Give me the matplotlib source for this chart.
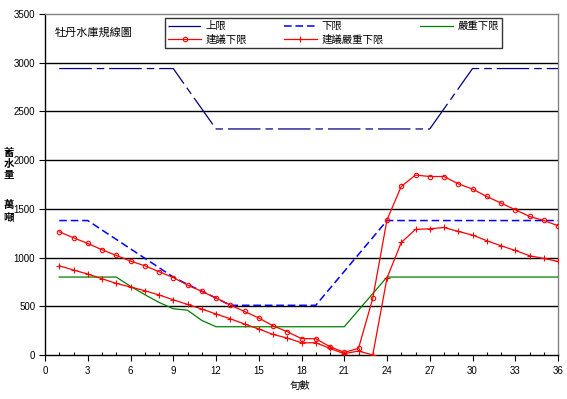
#-*-coding: utf-8 -*-
# 牡丹水庫規線圖
import numpy as np
import matplotlib
matplotlib.use('Agg')
from matplotlib import pyplot as plt

plt.rcParams['font.family'] = ['Noto Sans CJK TC', 'DejaVu Sans']

# 旬數
xun = list(range(1, 37))

# 上限
upper = [2940, 2940, 2940, 2940, 2940, 2940, 2940, 2940, 2940, 2733, 2527, 2320,
         2320, 2320, 2320, 2320, 2320, 2320, 2320, 2320, 2320, 2320, 2320, 2320,
         2320, 2320, 2320, 2527, 2733, 2940, 2940, 2940, 2940, 2940, 2940, 2940]
# 下限
lower = [1380, 1380, 1380, 1283, 1187, 1090, 993, 897, 800, 725, 655, 585,
         510, 510, 510, 510, 510, 510, 510, 684, 858, 1032, 1206, 1380,
         1380, 1380, 1380, 1380, 1380, 1380, 1380, 1380, 1380, 1380, 1380, 1380]
# 嚴重下限
severe = [800, 800, 800, 800, 800, 705, 620, 540, 475, 460, 355, 290,
          290, 290, 290, 290, 290, 290, 290, 290, 290, 460, 630, 800,
          800, 800, 800, 800, 800, 800, 800, 800, 800, 800, 800, 800]
# 建議下限
sugg = [1265, 1203, 1145, 1080, 1022, 964, 916, 855, 795, 718, 653, 585,
        513, 447, 380, 300, 239, 168, 167, 85, 27, 68, 581, 1388,
        1730, 1847, 1832, 1832, 1757, 1703, 1627, 1559, 1491, 1422, 1381, 1327]
# 建議嚴重下限
sugg_severe = [916, 872, 831, 783, 735, 698, 660, 616, 567, 519, 472, 421,
               372, 318, 267, 211, 174, 125, 126, 68, 13, 41, 0, 790,
               1155, 1289, 1295, 1309, 1268, 1231, 1173, 1121, 1073, 1019, 991, 960]

yticks = [0, 500, 1000, 1500, 2000, 2500, 3000, 3500]
xticks = list(range(0, 37, 3))

fig = plt.figure(figsize=(5.67, 3.99), dpi=100)
ax = fig.add_axes([45/567, 1-355/399, 513/567, 341/399])

for v in yticks[1:-1]:
    ax.axhline(v, color='black', lw=1, zorder=1)

l1, = ax.plot(xun, upper, color='#000080', lw=0.9, dashes=(26, 4, 6, 4), label=u'上限', zorder=3)
l2, = ax.plot(xun, lower, color='#0000FF', lw=1.1, dashes=(5, 2.5), label=u'下限', zorder=3)
l3, = ax.plot(xun, severe, color='#008000', lw=0.9, label=u'嚴重下限', zorder=3)
l4, = ax.plot(xun, sugg, color='#FF0000', lw=0.9, marker='o', ms=3.2, mfc='none', mew=0.8,
              label=u'建議下限', zorder=4)
l5, = ax.plot(xun, sugg_severe, color='#FF0000', lw=0.9, marker='+', ms=4, mew=0.8,
              label=u'建議嚴重下限', zorder=4)

ax.set_xlim(0, 36)
ax.set_ylim(0, 3500)
ax.set_xticks(xticks)
ax.set_xticks(xun, minor=True)
ax.set_yticks(yticks)
ax.tick_params(axis='both', labelsize=7, direction='out', length=4, width=0.8, colors='black')
ax.tick_params(axis='x', which='minor', direction='in', length=2, width=0.8)
ax.tick_params(axis='x', pad=4)
ax.tick_params(axis='y', pad=3)
for lab in ax.get_xticklabels() + ax.get_yticklabels():
    lab.set_family(['Liberation Sans Narrow', 'Liberation Sans', 'DejaVu Sans'])
    lab.set_fontsize(7)
ax.spines['left'].set_color('black')
ax.spines['bottom'].set_color('black')
ax.spines['top'].set_color('#808080')
ax.spines['right'].set_color('#808080')
for s in ax.spines.values():
    s.set_linewidth(1)

leg = ax.legend([l1, l4, l2, l5, l3], [u'上限', u'建議下限', u'下限', u'建議嚴重下限', u'嚴重下限'],
                ncol=3, loc='upper left', bbox_to_anchor=(120/513, 1-4/341),
                fontsize=7.5, frameon=True, fancybox=False, edgecolor='black',
                borderpad=0.3, labelspacing=0.35, handlelength=3.2, handletextpad=0.4,
                columnspacing=3.5, borderaxespad=0)
leg.get_frame().set_linewidth(1)

fig.text(55/567, 1-33/399, u'牡丹水庫規線圖', fontsize=8, va='center', ha='left')
fig.text(9/567, 1-164/399, u'蓄\n水\n量', fontsize=7.5, va='center', ha='center',
         linespacing=1.15, fontweight='bold')
fig.text(9/567, 1-211/399, u'萬\n噸', fontsize=7.5, va='center', ha='center',
         linespacing=1.15, fontweight='bold')
fig.text(300/567, 1-386/399, u'旬數', fontsize=7.5, va='center', ha='center')

plt.savefig('out.png', dpi=100)
